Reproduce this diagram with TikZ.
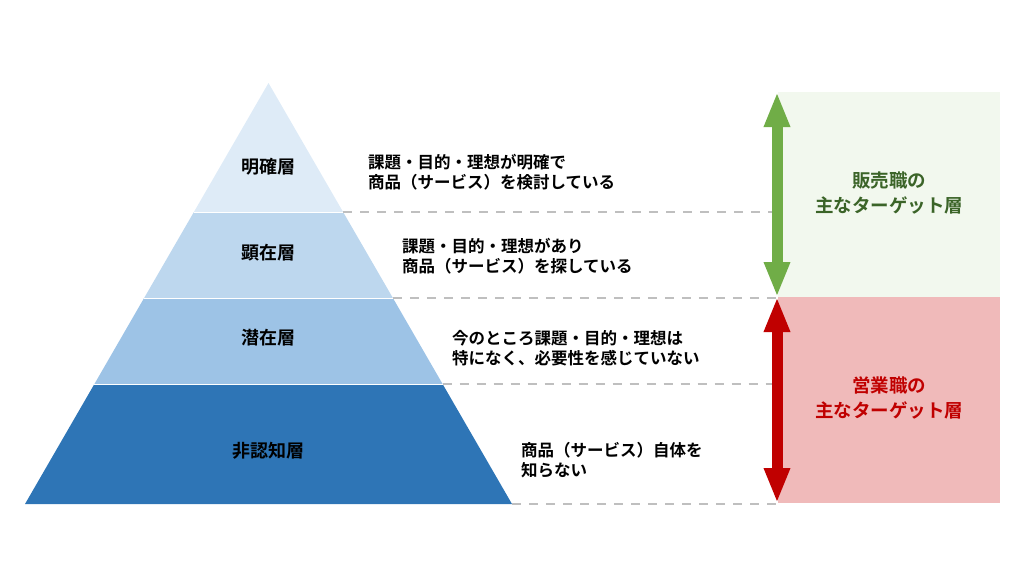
\documentclass[tikz,border=0pt]{standalone}
\usepackage{xcolor}
\usepackage{fontspec}
\newfontfamily\jpfont{Noto Sans CJK JP Bold}
\usetikzlibrary{arrows.meta,positioning}
\definecolor{layA}{HTML}{DEEBF7}
\definecolor{layB}{HTML}{BDD7EE}
\definecolor{layC}{HTML}{9DC3E6}
\definecolor{layD}{HTML}{2E75B6}
\definecolor{guide}{HTML}{BFBFBF}
\definecolor{salesG}{HTML}{70AD47}
\definecolor{salesBox}{HTML}{F2F8EE}
\definecolor{salesTxt}{HTML}{3B6428}
\definecolor{bizR}{HTML}{C00000}
\definecolor{bizBox}{HTML}{F0BABA}
\begin{document}
\begin{tikzpicture}[x=1pt, y=-1pt]
		\tikzstyle{every node}=[font=\jpfont]
		\tikzstyle{layer}=[draw=white, line width=1pt]
		\tikzstyle{guideline}=[draw=guide, line width=2.5pt, dash pattern=on 9pt off 8pt]
		\tikzstyle{desc}=[anchor=west, align=left, font=\jpfont\fontsize{16.5}{20}\selectfont, inner sep=0pt]
		\tikzstyle{laytext}=[font=\jpfont\fontsize{18}{22}\selectfont, inner sep=0pt]
		\tikzstyle{target}=[align=center, font=\jpfont\fontsize{18.5}{24.5}\selectfont, inner sep=0pt]
		\tikzstyle{bigarrow}=[line width=11pt, {Triangle[width=24pt,length=35pt]}-{Triangle[width=24pt,length=35pt]}]
		\useasboundingbox (0,0) rectangle (1024,576);
		% pyramid
		\coordinate (apex) at (268.5,83);
		\coordinate (l1) at (193.9,212); \coordinate (r1) at (343.1,212);
		\coordinate (l2) at (144.1,298); \coordinate (r2) at (392.9,298);
		\coordinate (l3) at (94.4,384);  \coordinate (r3) at (442.6,384);
		\coordinate (l4) at (25,504);    \coordinate (r4) at (512,504);
		\fill [layD] (l3) -- (r3) -- (r4) -- (l4) -- cycle;
		\fill [layC] (l2) -- (r2) -- (r3) -- (l3) -- cycle;
		\fill [layB] (l1) -- (r1) -- (r2) -- (l2) -- cycle;
		\fill [layA] (apex) -- (r1) -- (l1) -- cycle;
		\draw [layer] (l1) -- (r1);
		\draw [layer] (l2) -- (r2);
		\draw [layer] (l3) -- (r3);
		\node [laytext] (meikaku) at (268.5,167) {明確層};
		\node [laytext] (kenzai) at (268.5,253) {顕在層};
		\node [laytext] (senzai) at (268.5,338) {潜在層};
		\node [laytext] (hinin) at (268.5,451) {非認知層};
		% descriptions
		\node [desc] (d1) at (368,172) {課題・目的・理想が明確で\\商品（サービス）を検討している};
		\node [desc] (d2) at (402,256) {課題・目的・理想があり\\商品（サービス）を探している};
		\node [desc] (d3) at (452,348) {今のところ課題・目的・理想は\\特になく、必要性を感じていない};
		\node [desc] (d4) at (521,460) {商品（サービス）自体を\\知らない};
		% target boxes
		\coordinate (gtop) at (777,92);
		\coordinate (mid) at (777,297);
		\coordinate (rbot) at (777,503);
		\fill [salesBox] (778,92) rectangle (1000,297);
		\fill [bizBox] (778,297) rectangle (1000,503);
		\node [target, text=salesTxt] (hanbai) at (889,193) {販売職の\\主なターゲット層};
		\node [target, text=bizR] (eigyo) at (889,398) {営業職の\\主なターゲット層};
		% guides
		\draw [guideline] (r1) -- (r1 -| mid);
		\draw [guideline] (r2) -- (r2 -| mid);
		\draw [guideline] (r3) -- (r3 -| mid);
		\draw [guideline] (r4) -- (r4 -| mid);
		\draw [bigarrow, salesG] (gtop) -- (mid);
		\draw [bigarrow, bizR] (mid) -- (rbot);
\end{tikzpicture}
\end{document}
